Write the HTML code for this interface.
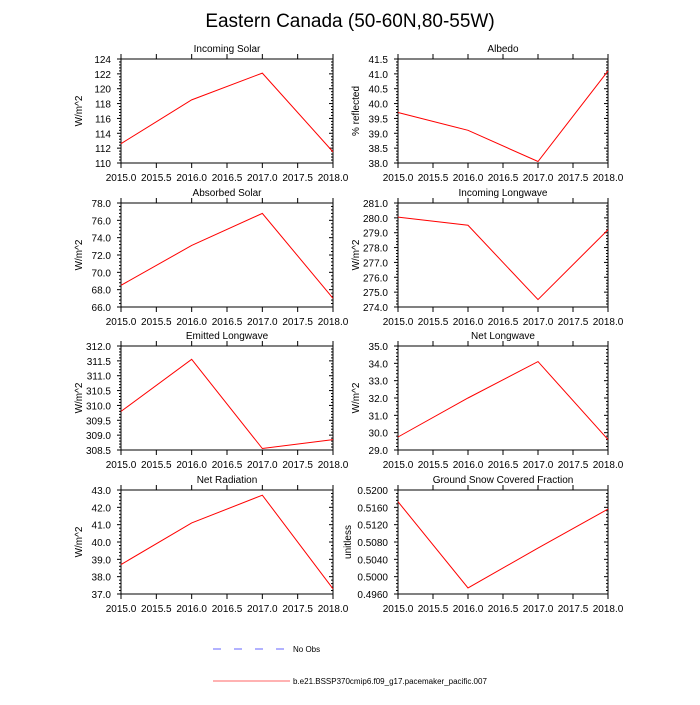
<!DOCTYPE html>
<html><head><meta charset="utf-8"><style>
body{margin:0;background:#fff;}
svg text{font-family:"Liberation Sans",sans-serif;fill:#000;}
</style></head><body>
<svg id="c" width="700" height="700" xmlns="http://www.w3.org/2000/svg">
<text x="350" y="27" text-anchor="middle" font-size="19">Eastern Canada (50-60N,80-55W)</text>
<g>
<line x1="213" y1="649" x2="287" y2="649" stroke="#6666ff" stroke-width="1" stroke-dasharray="8,13"/>
<text x="293" y="652" font-size="8">No Obs</text>
<line x1="213" y1="681" x2="290" y2="681" stroke="#ff6666" stroke-width="1"/>
<text x="293" y="684" font-size="8">b.e21.BSSP370cmip6.f09_g17.pacemaker_pacific.007</text>
</g>
</svg>
<script>
const years=[2015,2016,2017,2018];
const titles=["Incoming Solar","Albedo","Absorbed Solar","Incoming Longwave","Emitted Longwave","Net Longwave","Net Radiation","Ground Snow Covered Fraction"];
const yLabels=["W/m^2","% reflected","W/m^2","W/m^2","W/m^2","W/m^2","W/m^2","unitless"];
const incomingSolar=[112.6,118.5,122.1,111.5];
const albedo=[39.7,39.1,38.05,41.1];
const absorbedSolar=[68.5,73.1,76.8,67.0];
const incomingLW=[280.05,279.5,274.5,279.2];
const emittedLW=[309.8,311.55,308.55,308.85];
const netLW=[29.75,32.0,34.1,29.6];
const netRad=[38.7,41.1,42.7,37.3];
const snowFrac=[0.5173,0.4974,0.5066,0.5156];
const yMins=[110,38.0,66,274,308.5,29,37,0.4960];
const yMaxs=[124,41.5,78,281,312,35,43,0.5200];
const ySteps=[2,0.5,2,1,0.5,1,1,0.004];
const yDec=[0,1,1,1,1,1,1,4];
const series=[incomingSolar,albedo,absorbedSolar,incomingLW,emittedLW,netLW,netRad,snowFrac];
const xTicks=[2015.0,2015.5,2016.0,2016.5,2017.0,2017.5,2018.0];

const svg=document.getElementById('c');
const NS='http://www.w3.org/2000/svg';
function mk(t,a,p){const e=document.createElementNS(NS,t);for(const k in a)e.setAttribute(k,a[k]);(p||svg).appendChild(e);return e;}
const tops=[59,203,346,490];
for(let i=0;i<8;i++){
  const col=i%2,row=Math.floor(i/2);
  const L=col?398:121,R=col?608:333,T=tops[row],B=T+104;
  const g=mk('g',{});
  
  
  const xs=v=>L+(v-2015)/3*(R-L);
  const ys=v=>B-(v-yMins[i])/(yMaxs[i]-yMins[i])*(B-T);
  xTicks.forEach(v=>{
    const x=xs(v);
    mk('line',{x1:x,y1:B,x2:x,y2:B+5,stroke:'#000','stroke-width':1},g);
    mk('line',{x1:x,y1:T,x2:x,y2:T-5,stroke:'#000','stroke-width':1},g);
    const t=mk('text',{x:x,y:B+18,'text-anchor':'middle','font-size':10},g);t.textContent=v.toFixed(1);
    });
  const st=ySteps[i],mn=yMins[i],mx=yMaxs[i];
  const n=Math.round((mx-mn)/st);
  const minorN=5;
  for(let k=0;k<=n*minorN;k++){
    const v=mn+k*st/minorN,y=ys(v),major=k%minorN===0,len=major?4:2;
    mk('line',{x1:L,y1:y,x2:L-len,y2:y,stroke:'#000','stroke-width':1},g);
    mk('line',{x1:R,y1:y,x2:R-len,y2:y,stroke:'#000','stroke-width':1},g);
  }
  for(let k=0;k<=n;k++){
    const v=mn+k*st;
    const t=mk('text',{x:L-10,y:ys(v)+4,'text-anchor':'end','font-size':10},g);t.textContent=v.toFixed(yDec[i]);
    
  }
  mk('rect',{x:L,y:T,width:R-L,height:B-T,fill:'none',stroke:'#000','stroke-width':1},g);
  const tt=mk('text',{x:(L+R)/2,y:T-7,'text-anchor':'middle','font-size':10},g);tt.textContent=titles[i];
  
  const yl=mk('text',{x:0,y:0,'text-anchor':'middle','font-size':10,transform:`translate(${L-(i==7?47:39)},${(T+B)/2}) rotate(-90)`},g);yl.textContent=yLabels[i];
  
  const pts=years.map((y,j)=>xs(y)+','+ys(series[i][j])).join(' ');
  const pl=mk('polyline',{points:pts,fill:'none',stroke:'#ff0000','stroke-width':1},g);
  
  
}
</script>
</body></html>
